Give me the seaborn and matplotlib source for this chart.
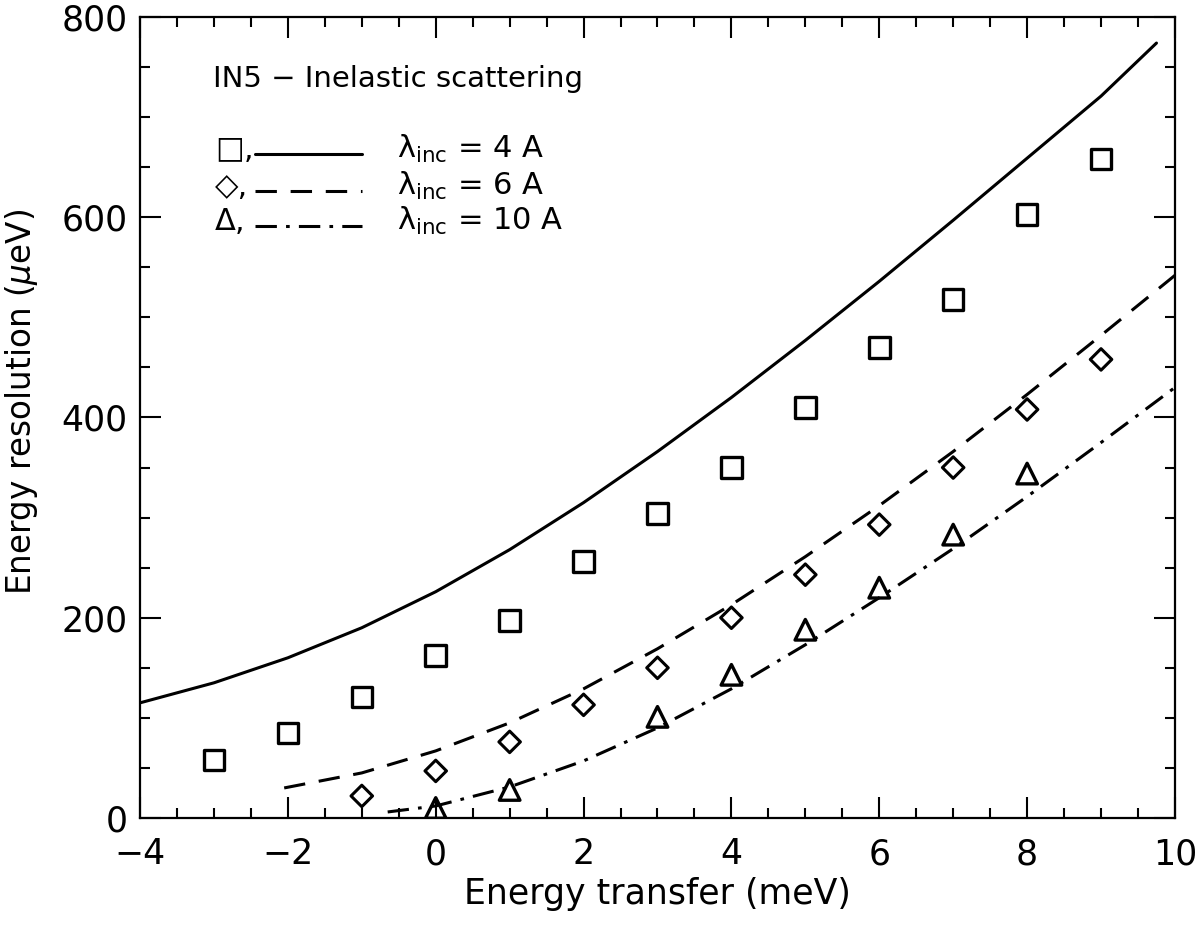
import matplotlib
matplotlib.use('Agg')
import matplotlib.pyplot as plt
import seaborn as sns
from matplotlib.ticker import MultipleLocator
from matplotlib.lines import Line2D

# measured points
x_sq = [-3, -2, -1, 0, 1, 2, 3, 4, 5, 6, 7, 8, 9]
y_sq = [58, 85, 121, 162, 197, 256, 304, 350, 410, 470, 518, 603, 658]
x_dia = [-1, 0, 1, 2, 3, 4, 5, 6, 7, 8, 9]
y_dia = [22, 47, 76, 113, 150, 200, 243, 293, 350, 408, 458]
x_tri = [0, 1, 3, 4, 5, 6, 7, 8]
y_tri = [10, 28, 101, 143, 188, 230, 283, 344]

# calculated resolution curves
x_4A = [-4, -3, -2, -1, 0, 1, 2, 3, 4, 5, 6, 7, 8, 9, 9.75]
y_4A = [115, 135, 160, 190, 226, 268, 315, 366, 420, 477, 536, 597, 659, 721, 774]
x_6A = [-2.05, -1, 0, 1, 2, 3, 4, 5, 6, 7, 8, 9, 10]
y_6A = [30, 45, 67, 95, 129, 169, 213, 261, 312, 366, 423, 482, 542]
x_10A = [-0.65, 0, 1, 2, 3, 4, 5, 6, 7, 8, 9, 10]
y_10A = [6, 12, 31, 57, 90, 129, 173, 220, 269, 321, 375, 430]

labels = ['4 A', '6 A', '10 A']

sns.set_style('ticks')
plt.rcParams['font.family'] = ['DejaVu Sans']
plt.rcParams['mathtext.default'] = 'regular'
plt.rcParams['text.color'] = 'black'
plt.rcParams['axes.labelcolor'] = 'black'

fig = plt.figure(figsize=(12.02, 9.25), dpi=100)
ax = fig.add_axes([0.1165, 0.1157, 0.861, 0.8659])

lw = 2.2
dash_6A = [7, 4.5]
dash_10A = [7, 3, 1.2, 3]
sns.lineplot(x=x_4A, y=y_4A, ax=ax, color='black', lw=lw)
sns.lineplot(x=x_6A, y=y_6A, ax=ax, color='black', lw=lw)
sns.lineplot(x=x_10A, y=y_10A, ax=ax, color='black', lw=lw)
lines = ax.get_lines()
lines[1].set_dashes(dash_6A)
lines[2].set_dashes(dash_10A)

sns.scatterplot(x=x_sq, y=y_sq, ax=ax, marker='s', s=220, facecolor='none',
                edgecolor='black', linewidth=2.4)
sns.scatterplot(x=x_dia, y=y_dia, ax=ax, marker='D', s=120, facecolor='none',
                edgecolor='black', linewidth=2.2)
sns.scatterplot(x=x_tri, y=y_tri, ax=ax, marker='^', s=220, facecolor='none',
                edgecolor='black', linewidth=2.4)

ax.set_xlim(-4, 10)
ax.set_ylim(0, 800)
ax.xaxis.set_major_locator(MultipleLocator(2))
ax.xaxis.set_minor_locator(MultipleLocator(0.5))
ax.yaxis.set_major_locator(MultipleLocator(200))
ax.yaxis.set_minor_locator(MultipleLocator(50))
ax.tick_params(which='both', direction='in', top=True, right=True,
               width=1.5, colors='black', labelsize=25)
ax.tick_params(which='major', length=15)
ax.tick_params(which='minor', length=7)
ax.tick_params(axis='x', pad=14)
ax.tick_params(axis='y', pad=9)
ax.set_xticks(range(-4, 11, 2))
ax.set_xticklabels([str(v).replace('-', '\u2212') for v in range(-4, 11, 2)])
for s in ax.spines.values():
    s.set_linewidth(1.6)
    s.set_color('black')

ax.set_xlabel('Energy transfer (meV)', fontsize=25, labelpad=4)
ax.set_ylabel(r'Energy resolution ($\mathit{\mu}$eV)', fontsize=23.5)
ax.yaxis.set_label_coords(-0.097, 0.52)

# in-plot key
ax.text(0.0705, 0.9225, 'IN5 \u2212 Inelastic scattering', transform=ax.transAxes,
        fontsize=21, va='center', ha='left')
rows = [0.835, 0.789, 0.745]
syms = ['\u25a1,', '\u25c7,', '\u0394,']
dashes = [None, dash_6A, dash_10A]
for yy, sym, lab, d in zip(rows, syms, labels, dashes):
    ax.text(0.0725, yy, sym, transform=ax.transAxes, fontsize=22,
            va='center', ha='left')
    ln = Line2D([0.111, 0.2145], [yy - 0.006, yy - 0.006], transform=ax.transAxes,
                color='black', lw=lw)
    if d:
        ln.set_dashes(d)
    ax.add_line(ln)
    ax.text(0.248, yy, r'λ$_{inc}$ = ' + lab, transform=ax.transAxes,
            fontsize=22, va='center', ha='left')

fig.savefig('out.png', dpi=100)
